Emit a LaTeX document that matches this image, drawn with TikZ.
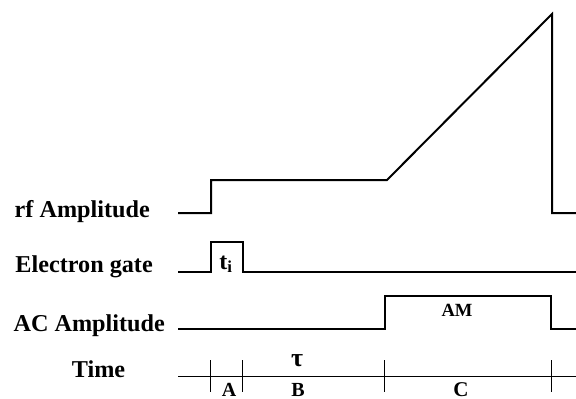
\documentclass[tikz,border=0pt]{standalone}
\usepackage{fontspec}
\setmainfont{Liberation Serif}
\usetikzlibrary{arrows.meta}
\begin{document}
\begin{tikzpicture}[x=1pt,y=-1pt,
  lbl/.style={font=\fontsize{24.2}{27}\selectfont\bfseries, inner sep=0pt, anchor=base east},
  small/.style={font=\fontsize{20}{22}\selectfont\bfseries, inner sep=0pt, anchor=base},
  seg/.style={small, text depth=0pt},
  sig/.style={line width=2pt, line join=miter},
  axis/.style={line width=1pt}]
\useasboundingbox (0,0) rectangle (576,399);
\clip (0,0) rectangle (576,399);
% labels
\node[lbl] (rf) at (150,217) {rf Amplitude};
\node[lbl] (eg) at (153,272) {Electron gate};
\node[lbl] (ac) at (165,331.5) {AC Amplitude};
\node[lbl, anchor=base] (time) at (98.5,377) {Time};
% rf amplitude
\coordinate (rf0) at (178,213);
\draw[sig] (rf0) -- (211,213) -- (211,180) -- (387,180) -- (552,14) -- (552,213) -- (578,213);
% electron gate
\coordinate (eg0) at (178,271.5);
\draw[sig] (eg0) -- (211,271.5) -- (211,241.5) -- (243,241.5) -- (243,271.5) -- (578,271.5);
\node[small, font=\fontsize{24}{26}\selectfont\bfseries] (ti) at (226,269) {t\textsubscript{i}};
% AC amplitude
\coordinate (ac0) at (178,329);
\draw[sig] (ac0) -- (384.5,329) -- (384.5,296) -- (551,296) -- (551,329) -- (578,329);
\node[small, font=\fontsize{18.6}{20}\selectfont\bfseries] (am) at (457,316.7) {AM};
% time axis
\coordinate (t0) at (178,376);
\coordinate (t1) at (584,376);
\draw[axis, -{Straight Barb[length=6pt,width=10pt]}] (t0) -- (t1);
\foreach \x in {210,242,384.5,551} \draw[axis] (\x,360) -- (\x,392);
\node[small, font=\fontsize{26}{28}\selectfont\bfseries] (tau) at (297,366.5) {τ};
\node[seg] (A) at (229,396) {A};
\node[seg] (B) at (298,396) {B};
\node[seg, font=\fontsize{21}{23}\selectfont\bfseries] (C) at (461,396) {C};
\end{tikzpicture}
\end{document}
